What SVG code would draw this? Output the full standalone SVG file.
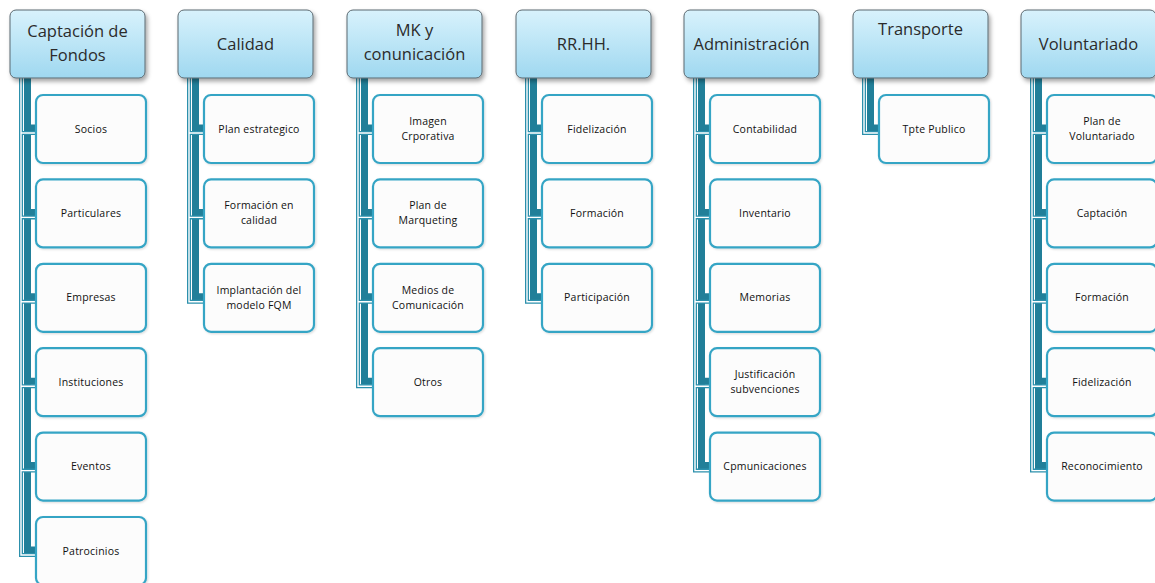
<svg xmlns="http://www.w3.org/2000/svg" width="1155" height="583" viewBox="0 0 1155 583">
<defs>
<linearGradient id="hg" x1="0" y1="0" x2="0" y2="1">
<stop offset="0" stop-color="#d8f2fc"/>
<stop offset="1" stop-color="#9fd8f0"/>
</linearGradient>
<filter id="sh" x="-10%" y="-10%" width="130%" height="140%">
<feDropShadow dx="2" dy="3" stdDeviation="2" flood-color="#000" flood-opacity="0.35"/>
</filter>
<filter id="csh" x="-10%" y="-10%" width="130%" height="130%">
<feDropShadow dx="1" dy="1" stdDeviation="1" flood-color="#000" flood-opacity="0.15"/>
</filter>
</defs>
<style>
.hd{fill:url(#hg);stroke:#5b6970;stroke-width:1;filter:url(#sh)}
.ch{fill:#fcfcfc;stroke:#36a5c5;stroke-width:2.2;filter:url(#csh)}
.ht{font-family:"Open Sans","DejaVu Sans",sans-serif;font-size:16.5px;fill:#2b2b2b;text-anchor:middle}
.ct{font-family:"Open Sans","DejaVu Sans",sans-serif;font-size:10.5px;letter-spacing:0.2px;fill:#111;text-anchor:middle}
.dk{fill:none;stroke:#217f99;stroke-width:7;stroke-linejoin:miter}
.ol{fill:none;stroke:#2c90ac;stroke-width:4;stroke-linejoin:miter}
.ow{fill:none;stroke:#ffffff;stroke-width:1.4;stroke-linejoin:miter}
</style>
<rect width="1155" height="583" fill="#ffffff"/>
<g id="connectors">
<path class="dk" d="M27.5 78V128H36M27.5 78V212.4H36M27.5 78V296.8H36M27.5 78V381.2H36M27.5 78V465.6H36M27.5 78V550H36 M195.5 78V128H204M195.5 78V212.4H204M195.5 78V296.8H204 M364.5 78V128H373M364.5 78V212.4H373M364.5 78V296.8H373M364.5 78V381.2H373 M533.5 78V128H542M533.5 78V212.4H542M533.5 78V296.8H542 M701.5 78V128H710M701.5 78V212.4H710M701.5 78V296.8H710M701.5 78V381.2H710M701.5 78V465.6H710 M870.5 78V128H879 M1038.5 78V128H1047M1038.5 78V212.4H1047M1038.5 78V296.8H1047M1038.5 78V381.2H1047M1038.5 78V465.6H1047"/>
<path class="ol" d="M21 78V133H36M21 78V217.4H36M21 78V301.8H36M21 78V386.2H36M21 78V470.6H36M21 78V555H36 M189 78V133H204M189 78V217.4H204M189 78V301.8H204 M358 78V133H373M358 78V217.4H373M358 78V301.8H373M358 78V386.2H373 M527 78V133H542M527 78V217.4H542M527 78V301.8H542 M695 78V133H710M695 78V217.4H710M695 78V301.8H710M695 78V386.2H710M695 78V470.6H710 M864 78V133H879 M1032 78V133H1047M1032 78V217.4H1047M1032 78V301.8H1047M1032 78V386.2H1047M1032 78V470.6H1047"/>
<path class="ow" d="M21 78V133H36M21 78V217.4H36M21 78V301.8H36M21 78V386.2H36M21 78V470.6H36M21 78V555H36 M189 78V133H204M189 78V217.4H204M189 78V301.8H204 M358 78V133H373M358 78V217.4H373M358 78V301.8H373M358 78V386.2H373 M527 78V133H542M527 78V217.4H542M527 78V301.8H542 M695 78V133H710M695 78V217.4H710M695 78V301.8H710M695 78V386.2H710M695 78V470.6H710 M864 78V133H879 M1032 78V133H1047M1032 78V217.4H1047M1032 78V301.8H1047M1032 78V386.2H1047M1032 78V470.6H1047"/>
</g>
<g id="captacion">
<rect class="hd" x="10" y="10" width="135" height="68" rx="6"/>
<text class="ht" x="77.5" y="37">Captación de</text>
<text class="ht" x="77.5" y="61">Fondos</text>
</g>
<g id="captacion-children">
<rect class="ch" x="36" y="95" width="110" height="68" rx="7"/><text class="ct" x="91" y="132.5">Socios</text>
<rect class="ch" x="36" y="179.4" width="110" height="68" rx="7"/><text class="ct" x="91" y="216.9">Particulares</text>
<rect class="ch" x="36" y="263.8" width="110" height="68" rx="7"/><text class="ct" x="91" y="301.3">Empresas</text>
<rect class="ch" x="36" y="348.2" width="110" height="68" rx="7"/><text class="ct" x="91" y="385.7">Instituciones</text>
<rect class="ch" x="36" y="432.6" width="110" height="68" rx="7"/><text class="ct" x="91" y="470.1">Eventos</text>
<rect class="ch" x="36" y="517" width="110" height="68" rx="7"/><text class="ct" x="91" y="554.5">Patrocinios</text>
</g>
<g id="calidad">
<rect class="hd" x="178" y="10" width="135" height="68" rx="6"/>
<text class="ht" x="245.5" y="50">Calidad</text>
</g>
<g id="calidad-children">
<rect class="ch" x="204" y="95" width="110" height="68" rx="7"/><text class="ct" x="259" y="132.5">Plan estrategico</text>
<rect class="ch" x="204" y="179.4" width="110" height="68" rx="7"/><text class="ct" x="259" y="209.4">Formación en</text><text class="ct" x="259" y="224.4">calidad</text>
<rect class="ch" x="204" y="263.8" width="110" height="68" rx="7"/><text class="ct" x="259" y="293.8">Implantación del</text><text class="ct" x="259" y="308.8">modelo FQM</text>
</g>
<g id="mk">
<rect class="hd" x="347" y="10" width="135" height="68" rx="6"/>
<text class="ht" x="414.5" y="36">MK y</text>
<text class="ht" x="414.5" y="60">conunicación</text>
</g>
<g id="mk-children">
<rect class="ch" x="373" y="95" width="110" height="68" rx="7"/><text class="ct" x="428" y="125">Imagen</text><text class="ct" x="428" y="140">Crporativa</text>
<rect class="ch" x="373" y="179.4" width="110" height="68" rx="7"/><text class="ct" x="428" y="209.4">Plan de</text><text class="ct" x="428" y="224.4">Marqueting</text>
<rect class="ch" x="373" y="263.8" width="110" height="68" rx="7"/><text class="ct" x="428" y="293.8">Medios de</text><text class="ct" x="428" y="308.8">Comunicación</text>
<rect class="ch" x="373" y="348.2" width="110" height="68" rx="7"/><text class="ct" x="428" y="385.7">Otros</text>
</g>
<g id="rrhh">
<rect class="hd" x="516" y="10" width="135" height="68" rx="6"/>
<text class="ht" x="583.5" y="50">RR.HH.</text>
</g>
<g id="rrhh-children">
<rect class="ch" x="542" y="95" width="110" height="68" rx="7"/><text class="ct" x="597" y="132.5">Fidelización</text>
<rect class="ch" x="542" y="179.4" width="110" height="68" rx="7"/><text class="ct" x="597" y="216.9">Formación</text>
<rect class="ch" x="542" y="263.8" width="110" height="68" rx="7"/><text class="ct" x="597" y="301.3">Participación</text>
</g>
<g id="administracion">
<rect class="hd" x="684" y="10" width="135" height="68" rx="6"/>
<text class="ht" x="751.5" y="50">Administración</text>
</g>
<g id="administracion-children">
<rect class="ch" x="710" y="95" width="110" height="68" rx="7"/><text class="ct" x="765" y="132.5">Contabilidad</text>
<rect class="ch" x="710" y="179.4" width="110" height="68" rx="7"/><text class="ct" x="765" y="216.9">Inventario</text>
<rect class="ch" x="710" y="263.8" width="110" height="68" rx="7"/><text class="ct" x="765" y="301.3">Memorias</text>
<rect class="ch" x="710" y="348.2" width="110" height="68" rx="7"/><text class="ct" x="765" y="378.2">Justificación</text><text class="ct" x="765" y="393.2">subvenciones</text>
<rect class="ch" x="710" y="432.6" width="110" height="68" rx="7"/><text class="ct" x="765" y="470.1">Cpmunicaciones</text>
</g>
<g id="transporte">
<rect class="hd" x="853" y="10" width="135" height="68" rx="6"/>
<text class="ht" x="920.5" y="35">Transporte</text>
</g>
<g id="transporte-children">
<rect class="ch" x="879" y="95" width="110" height="68" rx="7"/><text class="ct" x="934" y="132.5">Tpte Publico</text>
</g>
<g id="voluntariado">
<rect class="hd" x="1021" y="10" width="135" height="68" rx="6"/>
<text class="ht" x="1088.5" y="50">Voluntariado</text>
</g>
<g id="voluntariado-children">
<rect class="ch" x="1047" y="95" width="110" height="68" rx="7"/><text class="ct" x="1102" y="125">Plan de</text><text class="ct" x="1102" y="140">Voluntariado</text>
<rect class="ch" x="1047" y="179.4" width="110" height="68" rx="7"/><text class="ct" x="1102" y="216.9">Captación</text>
<rect class="ch" x="1047" y="263.8" width="110" height="68" rx="7"/><text class="ct" x="1102" y="301.3">Formación</text>
<rect class="ch" x="1047" y="348.2" width="110" height="68" rx="7"/><text class="ct" x="1102" y="385.7">Fidelización</text>
<rect class="ch" x="1047" y="432.6" width="110" height="68" rx="7"/><text class="ct" x="1102" y="470.1">Reconocimiento</text>
</g>
</svg>
